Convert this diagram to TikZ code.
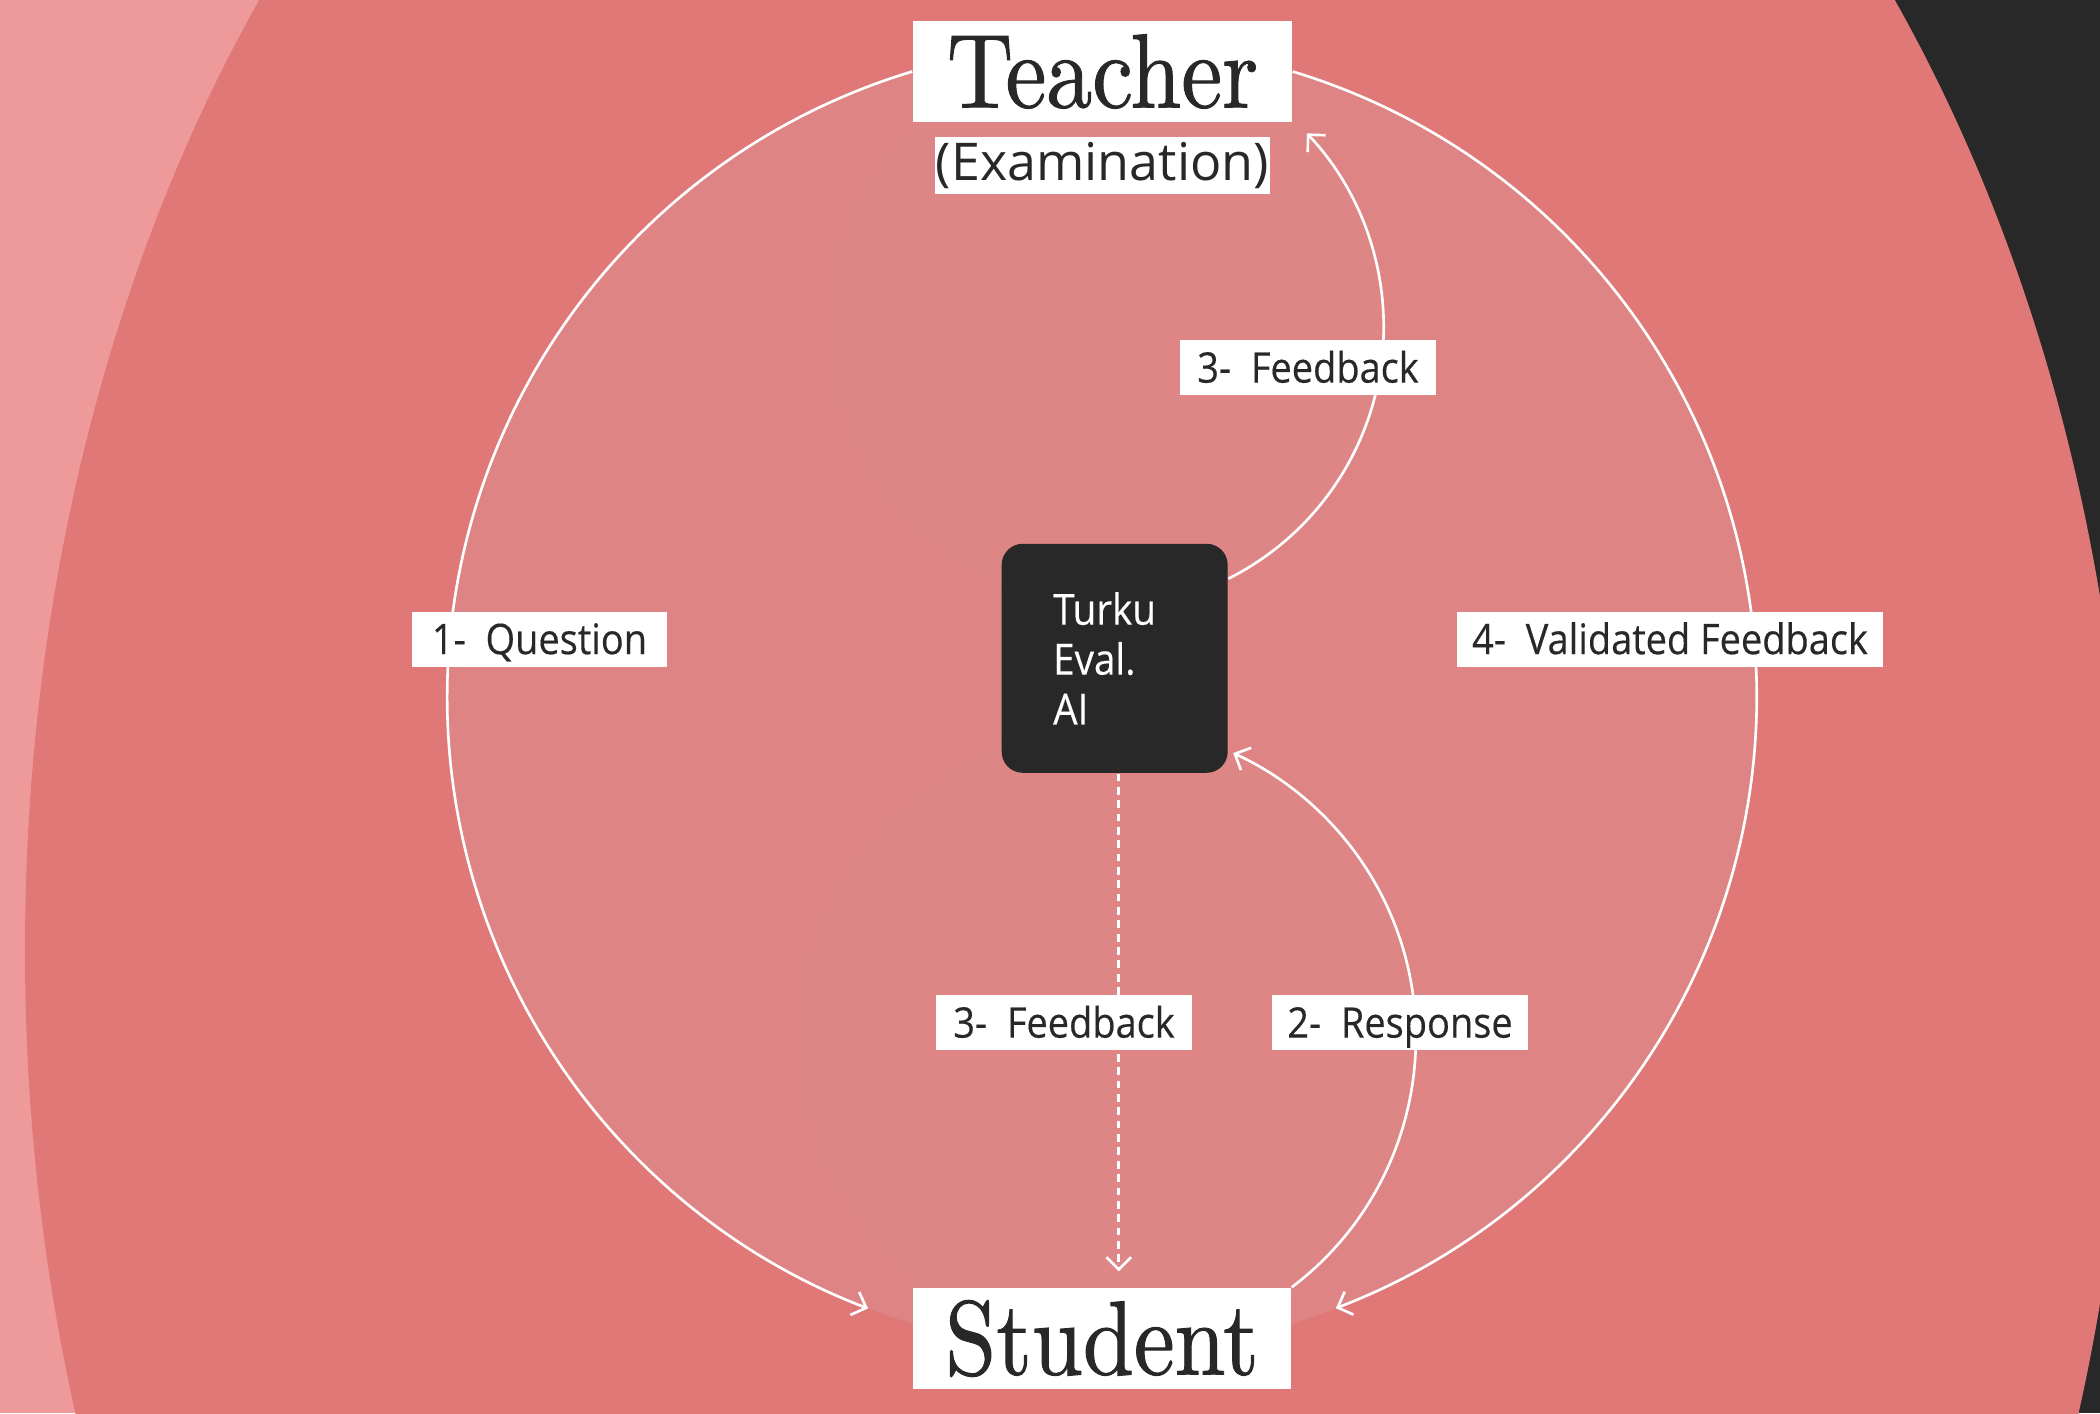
\documentclass[tikz,border=0pt]{standalone}
\usepackage{fontspec}
\usetikzlibrary{arrows.meta}
\newfontfamily\labelfont{Open Sans}[FakeStretch=0.9,FakeBold=0.3]
\newfontfamily\examfont{Open Sans}
\newfontfamily\titlefont{lmroman10-regular.otf}[FakeStretch=0.87,FakeBold=0.9]
\definecolor{bgpink}{HTML}{EE9A9A}
\definecolor{bgdark}{HTML}{282828}
\definecolor{salmon}{HTML}{E07878}
\definecolor{innerfill}{HTML}{DF8484}
\definecolor{smallfill}{HTML}{DE8685}
\definecolor{ink}{HTML}{282828}
\begin{document}
\begin{tikzpicture}[
  whitebox/.style={fill=white, text=ink, inner sep=0pt},
  titlebox/.style={whitebox, minimum width=3.79cm, minimum height=1.01cm, font=\titlefont\fontsize{30}{30}\selectfont},
  labelbox/.style={whitebox, minimum height=0.55cm, font=\labelfont\fontsize{12}{14}\selectfont, text height=8.6pt, text depth=0pt},
  flow/.style={white, line width=0.75pt, -{Straight Barb[length=3.5pt,width=7pt]}},
  aibox/.style={fill=bgdark, rounded corners=0.21cm, minimum width=2.26cm, minimum height=2.29cm, text=white, text width=1.23cm, align=left, inner sep=0pt, font=\labelfont\fontsize{12.2}{14.2}\selectfont},
]
\useasboundingbox (0,0) rectangle (21,14.13);
\begin{scope}
  \clip (0,0) rectangle (21,14.13);
  \fill[bgpink] (0,0) rectangle (10.5,14.13);
  \fill[bgdark] (10.5,0) rectangle (21,14.13);
  \fill[salmon] (10.77,4.63) ellipse [x radius=10.52, y radius=15.10];
  \fill[innerfill] (11.02,7.155) circle[radius=6.54];
  \fill[smallfill] (11.01,10.86) circle[radius=2.81];
  \fill[smallfill] (11.02,3.75) circle[radius=3.12];
\end{scope}

\node[titlebox] (teacher) at (11.025,13.415) {Teacher};
\node[whitebox, minimum width=3.35cm, minimum height=0.57cm, font=\examfont\fontsize{14.8}{16}\selectfont] (exam) at (11.025,12.475) {(Examination)};
\node[titlebox, minimum width=3.78cm] (student) at (11.02,0.745) {Student};
\node[aibox] (ai) at (11.147,7.547) {Turku\\Eval.\\AI};

\draw[flow] (teacher.west) arc[start angle=106.8, end angle=249.1, radius=6.54];
\draw[flow] (teacher.east) arc[start angle=73.1, end angle=-69.1, radius=6.54];
\draw[flow] (ai.35) arc[start angle=-63.3, end angle=43.3, radius=2.82];
\draw[flow] (student.north east) arc[start angle=-52.9, end angle=65.4, radius=3.13];
\draw[flow, dash pattern=on 2.2pt off 1.6pt, shorten >=0.16cm] ([xshift=0.04cm]ai.south) -- ([xshift=0.04cm]ai.south |- student.north);

\node[labelbox, minimum width=2.545cm] (q) at (5.395,7.74) {1-~~Question};
\node[labelbox, minimum width=4.26cm] (v) at (16.70,7.74) {4-~~Validated Feedback};
\node[labelbox, minimum width=2.56cm] (fb1) at (13.08,10.455) {3-~~Feedback};
\node[labelbox, minimum width=2.56cm] (fb2) at (10.64,3.905) {3-~~Feedback};
\node[labelbox, minimum width=2.56cm] (resp) at (14.00,3.905) {2-~~Response};
\end{tikzpicture}
\end{document}
